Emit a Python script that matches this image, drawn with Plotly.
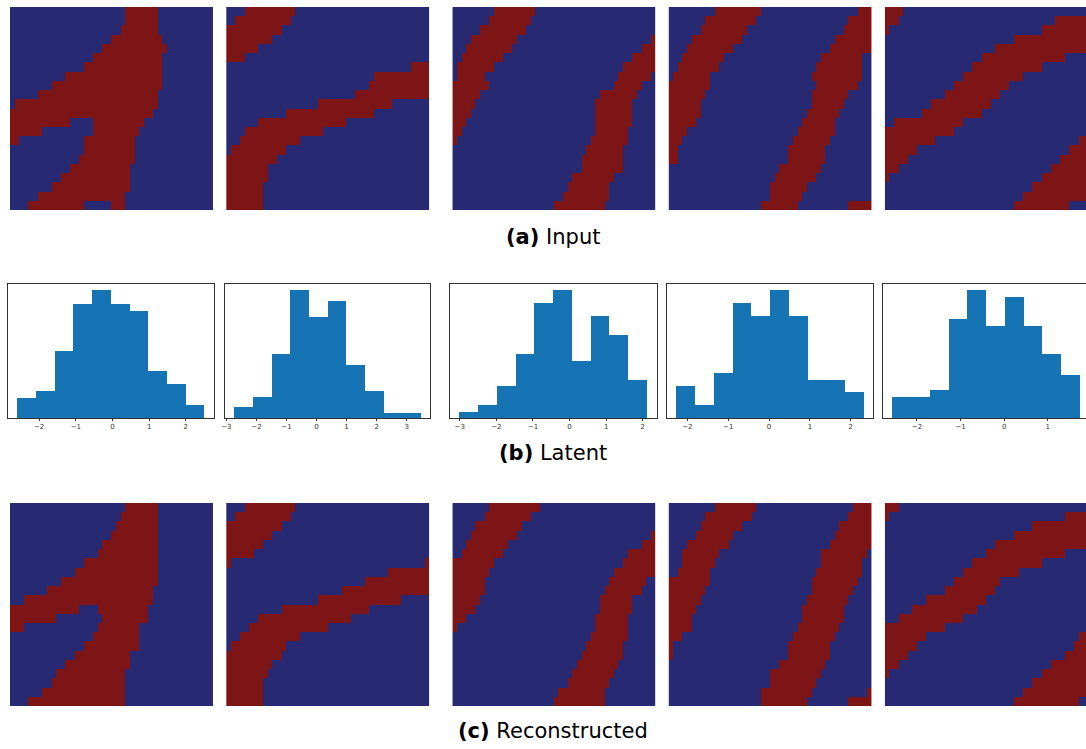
import numpy as np
import plotly.graph_objects as go

W, H = 1086, 749
BLUE = "#282973"
RED = "#7d1517"
BAR = "#1673b4"
N_COLS, N_ROWS = 44, 22

# ---- image data: red column intervals [start, end) per row (22 rows, 44 columns) ----
input_1 = [[(25,32)],[(25,32)],[(24,32)],[(22,33)],[(20,34)],[(18,33)],[(16,33)],[(12,33)],
           [(9,33)],[(6,32)],[(1,32)],[(0,31)],[(0,13),(18,29)],[(0,7),(18,28)],[(0,2),(16,27)],
           [(16,27)],[(15,27)],[(13,26)],[(11,26)],[(9,26)],[(6,25)],[(4,16),(22,25)]]
input_2 = [[(4,15)],[(2,14)],[(0,12)],[(0,10)],[(0,7)],[(0,4)],[(40,44)],[(32,44)],[(31,44)],
           [(28,44)],[(20,36)],[(13,32)],[(7,26)],[(4,21)],[(3,16)],[(1,13)],[(0,11)],[(0,9)],
           [(0,9)],[(0,8)],[(0,8)],[(0,8)]]
input_3 = [[(9,18)],[(8,17)],[(6,16)],[(4,14),(43,44)],[(3,13),(41,44)],[(2,11),(39,44)],
           [(1,9),(37,44)],[(1,7),(36,43)],[(0,8),(35,41)],[(0,6),(32,40)],[(0,5),(31,39)],
           [(0,4),(31,39)],[(0,3),(31,39)],[(0,2),(31,38)],[(0,1),(30,38)],[(29,37)],[(28,37)],
           [(28,37)],[(26,35)],[(25,34)],[(24,34)],[(22,33)]]
input_4 = [[(10,20),(41,44)],[(8,19),(39,44)],[(7,17),(38,44)],[(5,16),(36,44)],[(4,14),(35,44)],
           [(3,12),(33,42)],[(2,11),(32,42)],[(1,9),(31,42)],[(0,9),(32,41)],[(0,8),(31,39)],
           [(0,7),(31,38)],[(0,7),(30,37)],[(0,6),(29,36)],[(0,4),(28,36)],[(0,3),(27,35)],
           [(0,2),(26,34)],[(0,2),(26,34)],[(24,33)],[(23,32)],[(22,30)],[(22,29)],[(20,28),(39,44)]]
input_5 = [[(0,4)],[(0,3),(37,44)],[(0,1),(34,44)],[(28,44)],[(24,44)],[(21,39)],[(19,34)],
           [(17,30)],[(15,27)],[(13,25)],[(10,23)],[(8,21)],[(2,17)],[(0,15)],[(0,11),(42,44)],
           [(0,7),(40,44)],[(0,5),(38,44)],[(0,3),(36,44)],[(0,1),(34,44)],[(32,44)],[(30,44)],[(28,40)]]

recon_1 = [[(25,32)],[(24,32)],[(23,32)],[(22,32)],[(20,32)],[(19,32)],[(16,32)],[(14,32)],
           [(11,32)],[(8,31)],[(3,31)],[(0,15),(19,30)],[(0,10),(20,30)],[(0,3),(19,28)],
           [(18,28)],[(16,28)],[(14,26)],[(12,26)],[(10,25)],[(9,25)],[(7,25)],[(4,25)]]
recon_2 = [[(4,15)],[(2,14)],[(0,12)],[(0,10)],[(0,8)],[(0,6)],[(0,1),(43,44)],[(35,44)],
           [(30,44)],[(25,44)],[(20,38)],[(12,31)],[(7,27)],[(5,22)],[(3,16)],[(1,13)],[(0,12)],
           [(0,10)],[(0,9)],[(0,8)],[(0,8)],[(0,8)]]
recon_3 = [[(8,19)],[(7,17)],[(5,15)],[(4,14),(43,44)],[(3,12),(41,44)],[(2,11),(38,44)],
           [(0,9),(37,44)],[(0,8),(35,44)],[(0,7),(34,42)],[(0,7),(33,41)],[(0,6),(32,39)],
           [(0,5),(32,39)],[(0,3),(31,38)],[(0,1),(31,38)],[(30,38)],[(29,37)],[(28,37)],
           [(27,36)],[(26,35)],[(25,34)],[(23,33)],[(22,33)]]
recon_4 = [[(10,19),(40,44)],[(8,18),(39,44)],[(7,16),(37,44)],[(6,14),(36,44)],[(4,13),(35,44)],
           [(3,11),(33,43)],[(3,10),(33,42)],[(2,9),(32,42)],[(0,9),(31,41)],[(0,8),(31,40)],
           [(0,7),(30,39)],[(0,6),(29,38)],[(0,5),(29,38)],[(0,5),(28,37)],[(0,3),(27,36)],
           [(0,1),(26,35)],[(0,1),(26,35)],[(24,34)],[(22,33)],[(22,32)],[(20,31),(43,44)],
           [(20,30),(39,44)]]
recon_5 = [[(0,3)],[(0,1),(39,44)],[(32,44)],[(28,44)],[(24,44)],[(22,39)],[(19,34)],[(17,29)],
           [(15,25)],[(13,24)],[(9,22)],[(6,20)],[(3,17)],[(0,13)],[(0,9),(42,44)],[(0,7),(41,44)],
           [(0,5),(39,44)],[(0,3),(36,44)],[(0,1),(34,44)],[(32,44)],[(30,44)],[(28,42)]]

input_images = [input_1, input_2, input_3, input_4, input_5]
recon_images = [recon_1, recon_2, recon_3, recon_4, recon_5]

# ---- latent histograms (10 bins each) ----
hist_counts = [
    [3, 4, 10, 17, 19, 17, 16, 7, 5, 2],
    [2, 4, 12, 24, 19, 22, 10, 5, 1, 1],
    [1, 2, 5, 10, 18, 20, 9, 16, 13, 6],
    [5, 2, 7, 18, 16, 20, 16, 6, 6, 4],
    [3, 3, 4, 14, 18, 13, 17, 13, 9, 6],
]
hist_first_edge = [-2.58, -2.73, -3.00, -2.28, -2.57]
hist_bin_width = [0.51, 0.621, 0.512, 0.459, 0.43]
hist_ticks = [[-2, -1, 0, 1, 2], [-3, -2, -1, 0, 1, 2, 3], [-3, -2, -1, 0, 1, 2],
              [-2, -1, 0, 1, 2], [-2, -1, 0, 1]]

captions = ["<b>(a)</b> Input", "<b>(b)</b> Latent", "<b>(c)</b> Reconstructed"]

# ---- layout geometry (pixels) ----
img_x = [(6, 210), (223, 427), (450, 654), (667, 871), (884, 1088)]
hist_x = [(4.5, 211), (222, 428), (448, 655), (665, 872), (882, 1089)]
row_top_y = (7, 210)
row_hist_y = (284, 418)
row_bot_y = (503, 706)
caption_y = [237, 453, 731]
caption_x = 551


def to_matrix(rows):
    z = np.zeros((N_ROWS, N_COLS))
    for r, ivs in enumerate(rows):
        for a, b in ivs:
            z[r, a:b] = 1
    return z


def xdom(x0, x1):
    return [max(0, x0 / W), min(1, x1 / W)]


def ydom(y0, y1):
    return [1 - y1 / H, 1 - y0 / H]


fig = go.Figure()
layout = {}
ax = 0
cs = [[0, BLUE], [0.5, BLUE], [0.5, RED], [1, RED]]

for row_imgs, (yt, yb) in [(input_images, row_top_y), (recon_images, row_bot_y)]:
    for i, img in enumerate(row_imgs):
        ax += 1
        z = to_matrix(img)
        fig.add_trace(go.Heatmap(z=z, x0=0.5, dx=1, y0=1, dy=2, colorscale=cs, zmin=0, zmax=1,
                                 showscale=False, hoverinfo="skip",
                                 xaxis=f"x{ax}", yaxis=f"y{ax}"))
        x0, x1 = img_x[i]
        xr_end = N_COLS * (min(x1, W) - x0) / (x1 - x0)
        layout[f"xaxis{ax}"] = dict(domain=xdom(x0, x1), range=[0, xr_end], visible=False,
                                    anchor=f"y{ax}", fixedrange=True)
        layout[f"yaxis{ax}"] = dict(domain=ydom(yt, yb), range=[N_COLS, 0], visible=False,
                                    anchor=f"x{ax}", fixedrange=True)

for i in range(5):
    ax += 1
    counts = hist_counts[i]
    w = hist_bin_width[i]
    edges = [hist_first_edge[i] + w * k for k in range(len(counts) + 1)]
    centers = [(edges[k] + edges[k + 1]) / 2 for k in range(len(counts))]
    fig.add_trace(go.Bar(x=centers, y=counts, width=w, marker=dict(color=BAR, line=dict(width=0)),
                         hoverinfo="skip", xaxis=f"x{ax}", yaxis=f"y{ax}"))
    span = edges[-1] - edges[0]
    lo, hi = edges[0] - 0.05 * span, edges[-1] + 0.05 * span
    x0, x1 = hist_x[i]
    clipped = x1 > W
    if clipped:
        hi = lo + (hi - lo) * (W - x0) / (x1 - x0)
    layout[f"xaxis{ax}"] = dict(domain=xdom(x0, x1), range=[lo, hi], anchor=f"y{ax}",
                                showline=True, linecolor="#333", linewidth=1, mirror=True,
                                showgrid=False, zeroline=False, tickvals=hist_ticks[i],
                                ticks="outside", ticklen=2, tickwidth=1, tickcolor="#333",
                                tickfont=dict(size=7, color="#333", family="DejaVu Sans"),
                                fixedrange=True)
    layout[f"yaxis{ax}"] = dict(domain=ydom(*row_hist_y), range=[0, max(counts) * 1.05],
                                anchor=f"x{ax}", showline=True, linecolor="#333", linewidth=1,
                                mirror=not clipped, showgrid=False, zeroline=False,
                                showticklabels=False, ticks="", fixedrange=True)

annotations = []
for txt, cy in zip(captions, caption_y):
    annotations.append(dict(text=txt, x=caption_x / W, y=1 - cy / H, xref="paper", yref="paper",
                            showarrow=False, xanchor="center", yanchor="middle",
                            font=dict(size=21, color="black", family="DejaVu Sans")))

fig.update_layout(width=W, height=H, margin=dict(l=0, r=0, t=0, b=0), paper_bgcolor="white",
                  plot_bgcolor="white", showlegend=False, bargap=0, annotations=annotations,
                  **layout)
fig.write_html("out.html")
